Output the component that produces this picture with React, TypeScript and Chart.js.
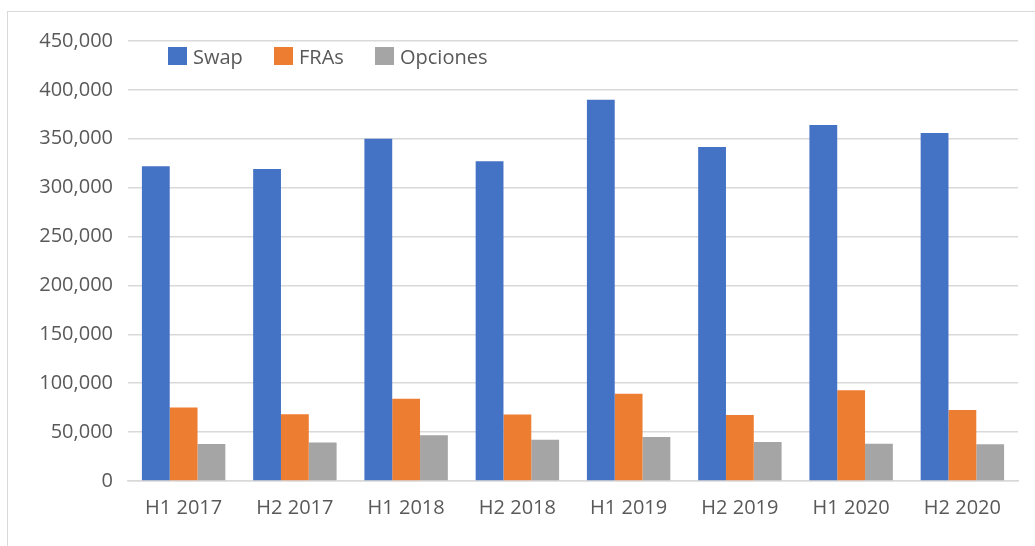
import React, { useEffect, useRef } from "react";
import { Chart, registerables } from "chart.js";

Chart.register(...registerables);

const categories = ["H1 2017", "H2 2017", "H1 2018", "H2 2018", "H1 2019", "H2 2019", "H1 2020", "H2 2020"];
const swapValues = [322000, 319000, 350000, 327000, 390000, 341500, 364000, 356000];
const fraValues = [75200, 68300, 84000, 68000, 89200, 67600, 92700, 72700];
const opcionesValues = [37800, 39500, 46700, 42300, 45000, 39900, 38200, 37500];
const seriesNames = ["Swap", "FRAs", "Opciones"];
const seriesColors = ["#4472C4", "#ED7D31", "#A5A5A5"];

const FONT = "'Open Sans', sans-serif";

export default function App() {
  const canvasRef = useRef<HTMLCanvasElement | null>(null);

  useEffect(() => {
    const canvas = canvasRef.current;
    if (!canvas) return;
    const seriesData = [swapValues, fraValues, opcionesValues];
    const chart = new Chart(canvas, {
      type: "bar",
      data: {
        labels: categories,
        datasets: seriesNames.map((name, i) => ({
          label: name,
          data: seriesData[i],
          backgroundColor: seriesColors[i],
          borderWidth: 0,
          categoryPercentage: 0.75,
          barPercentage: 1,
        })),
      },
      options: {
        animation: false,
        responsive: false,
        maintainAspectRatio: false,
        layout: { padding: { left: 0, right: 17, top: 41, bottom: 11 } },
        plugins: {
          legend: { display: false },
          title: { display: false },
          tooltip: { enabled: false },
        },
        scales: {
          x: {
            grid: { display: false, drawTicks: false },
            border: { display: true, color: "#d9d9d9", width: 1.5 },
            ticks: {
              color: "#595959",
              font: { family: FONT, size: 20 },
              padding: 15,
              maxRotation: 0,
            },
          },
          y: {
            min: 0,
            max: 450000,
            afterFit: (scale: any) => {
              scale.width = 128;
            },
            grid: { color: "#d9d9d9", lineWidth: 1.5, drawTicks: false },
            border: { display: false },
            ticks: {
              stepSize: 50000,
              color: "#595959",
              font: { family: FONT, size: 20 },
              padding: 15,
              callback: (v: any) => Number(v).toLocaleString("en-US"),
            },
          },
        },
      },
    });
    return () => chart.destroy();
  }, []);

  const legendItems = [
    { name: "Swap", color: seriesColors[0], x: 168 },
    { name: "FRAs", color: seriesColors[1], x: 274 },
    { name: "Opciones", color: seriesColors[2], x: 375 },
  ];

  return (
    <div
      style={{
        position: "fixed",
        left: 0,
        top: 0,
        width: 1035,
        height: 546,
        background: "#ffffff",
        overflow: "hidden",
        fontFamily: FONT,
      }}
    >
      <div style={{ position: "absolute", left: 0, top: 0, width: 1035, height: 11, overflow: "hidden" }}>
        {[
          { t: "(", x: 532 },
          { t: ")", x: 720 },
          { t: ")", x: 979 },
        ].map((p, i) => (
          <span
            key={i}
            style={{ position: "absolute", left: p.x, top: -25, fontSize: 22, color: "#222", lineHeight: "26px" }}
          >
            {p.t}
          </span>
        ))}
      </div>
      <div
        style={{
          position: "absolute",
          left: 7,
          top: 11,
          right: 0,
          bottom: 0,
          borderLeft: "1px solid #d9d9d9",
          borderTop: "1px solid #d9d9d9",
        }}
      />
      <canvas
        ref={canvasRef}
        width={1035}
        height={546}
        style={{ position: "absolute", left: 0, top: 0, width: 1035, height: 546 }}
      />
      {legendItems.map((it) => (
        <div
          key={it.name}
          style={{
            position: "absolute",
            left: it.x,
            top: 44,
            height: 24,
            display: "flex",
            alignItems: "center",
            color: "#595959",
            fontSize: 20,
          }}
        >
          <span style={{ display: "inline-block", width: 19, height: 18, background: it.color, marginRight: 6 }} />
          <span>{it.name}</span>
        </div>
      ))}
    </div>
  );
}
